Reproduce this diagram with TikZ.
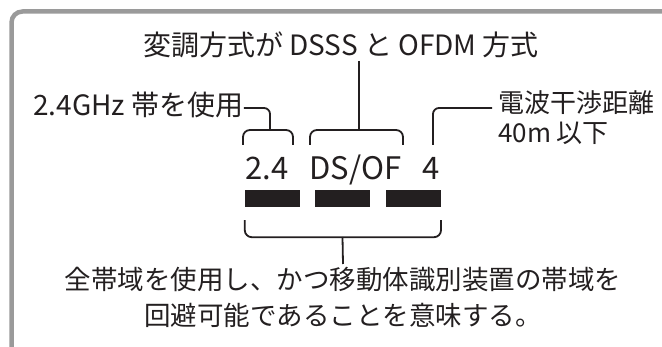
\documentclass[tikz,border=0pt]{standalone}
\usepackage{fontspec}
\setmainfont{Noto Sans CJK JP}
\usetikzlibrary{positioning}
\definecolor{ink}{HTML}{231F20}
\definecolor{frame gray}{HTML}{9A9A9A}
\tikzset {
  % outer frame of the panel
  frame path/.style = {
    draw = frame gray,
    line width = 4.5pt,
    rounded corners = 11pt
  },
  % lines from a label to its bracket
  lead path/.style = {
    draw = ink,
    line width = 1.8pt,
    rounded corners = 6pt
  },
  brace path/.style = {
    lead path,
    rounded corners = 7pt
  }
}
\tikzset {
  label text/.style = {
    text = ink,
    inner sep = 0,
    font = \fontsize{28}{34}\selectfont
  },
  side text/.style = {
    label text,
    font = \fontsize{26}{32}\selectfont
  },
  code text/.style = {
    label text,
    anchor = base,
    font = \fontsize{31}{36}\selectfont
  },
  note text/.style = {
    label text,
    align = center,
    font = \fontsize{26.5}{36}\selectfont
  },
  bar/.style = {
    fill = ink,
    rectangle,
    minimum width = 55pt,
    minimum height = 17pt,
    inner sep = 0
  },
  node distance = 15pt
}
\begin{document}
\begin{tikzpicture}[x=1pt, y=-1pt]
    \useasboundingbox (0,0) rectangle (662,347);
    \clip (0,0) rectangle (662,347);

    \draw[frame path] (690,11.5) -| (11.5,370);

    \node[label text] (title) at (341,45) {変調方式が DSSS と OFDM 方式};
    \node[label text] (band) at (138.5,105) {2.4GHz 帯を使用};

    \node[side text, anchor=west] (distance) at (498,103) {電波干渉距離};
    \node[side text, below=7pt of distance.south west, anchor=north west] (range) {40m 以下};

    \node[code text] (band code) at (267,180) {2.4};
    \node[code text] (mode code) at (355.5,180) {DS/OF};
    \node[code text] (range code) at (431,180) {4};

    \node[bar] (bar1) at (272.5,198.5) {};
    \node[bar] (bar2) [right=of bar1] {};
    \node[bar] (bar3) [right=of bar2] {};

    \node[note text, anchor=north] (note) at (343,267)
      {全帯域を使用し、かつ移動体識別装置の帯域を\\回避可能であることを意味する。};

    \coordinate (band stem) at (270,130);
    \coordinate (mode stem) at (359,130);
    \coordinate (mode top) at (359,61);
    \coordinate (range end) at (492,108);
    \coordinate[below=13pt of bar1.south west] (sum left);
    \coordinate[below=13pt of bar3.south east] (sum right);
    \coordinate (sum mid) at (342.5,237);

    % brackets over the code
    \draw[brace path] (243,145) |- (293,130) -- (293,145);
    \draw[brace path] (310,145) |- (403,130) -- (403,145);

    \draw[lead path] ([yshift=-3pt]band.east) -| (band stem);
    \draw[lead path] (mode top) -- (mode stem);
    \draw[lead path] (433,145) |- (range end);

    % bracket under the bars
    \draw[brace path] (sum left) -- ++(0,17) -| (sum right);
    \draw[lead path] (sum mid) -- ([yshift=3pt]note.north);
\end{tikzpicture}
\end{document}
